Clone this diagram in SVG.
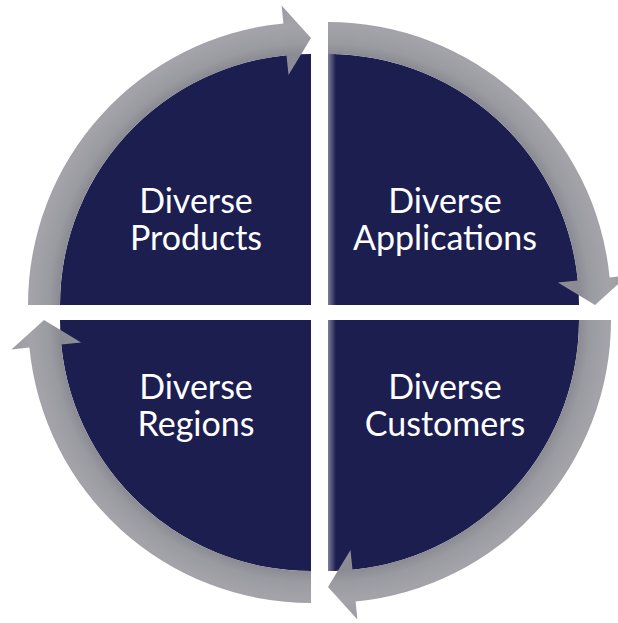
<svg xmlns="http://www.w3.org/2000/svg" width="618" height="623" viewBox="0 0 618 623">
  <defs>
    <style>
      .quad { fill: #1b1e4f; }
      .arc { fill: url(#greyBand); }
      .label { font-family: Lato, "Open Sans", "Liberation Sans", sans-serif; font-size: 34px; fill: #ffffff; text-anchor: middle; }
    </style>
    <radialGradient id="greyBand" gradientUnits="userSpaceOnUse" cx="0" cy="0" r="301">
      <stop offset="0.76" stop-color="#8e8e96"/>
      <stop offset="0.835" stop-color="#8b8b93"/>
      <stop offset="0.87" stop-color="#9a9aa1"/>
      <stop offset="0.93" stop-color="#a3a3a9"/>
      <stop offset="1" stop-color="#9b9ba2"/>
    </radialGradient>
    <linearGradient id="edgeGlow" x1="0" y1="0" x2="1" y2="0">
      <stop offset="0" stop-color="#7c7e98"/>
      <stop offset="1" stop-color="#1b1e4f"/>
    </linearGradient>
    <path id="quadShape" d="M0,0 L-251,0 A251,251 0 0 1 0,-251 Z"/>
    <path id="arcArrow" d="M-283,0 A283,283 0 0 1 -27.6,-281.6 L-29.4,-299.6 L0,-267 L-22.5,-229.9 L-24.5,-249.8 A251,251 0 0 0 -251,0 Z"/>
  </defs>

  <g id="node-products">
    <use href="#quadShape" class="quad" transform="translate(311,305)"/>
    <text class="label" x="196" y="213">Diverse</text>
    <text class="label" x="196" y="250">Products</text>
  </g>

  <g id="node-applications">
    <use href="#quadShape" class="quad" transform="translate(328,305) rotate(90)"/>
    <rect x="328" y="54" width="8" height="251" fill="url(#edgeGlow)"/>
    <text class="label" x="445" y="213">Diverse</text>
    <text class="label" x="445" y="250">Applications</text>
  </g>

  <g id="node-customers">
    <use href="#quadShape" class="quad" transform="translate(328,320) rotate(180)"/>
    <rect x="328" y="320" width="8" height="251" fill="url(#edgeGlow)"/>
    <text class="label" x="445" y="399">Diverse</text>
    <text class="label" x="445" y="436">Customers</text>
  </g>

  <g id="node-regions">
    <use href="#quadShape" class="quad" transform="translate(311,320) rotate(270)"/>
    <text class="label" x="196" y="399">Diverse</text>
    <text class="label" x="196" y="436">Regions</text>
  </g>

  <g id="connectors">
    <use href="#arcArrow" class="arc" transform="translate(311,305)"/>
    <use href="#arcArrow" class="arc" transform="translate(328,305) rotate(90)"/>
    <use href="#arcArrow" class="arc" transform="translate(328,320) rotate(180)"/>
    <use href="#arcArrow" class="arc" transform="translate(311,320) rotate(270)"/>
  </g>
</svg>
